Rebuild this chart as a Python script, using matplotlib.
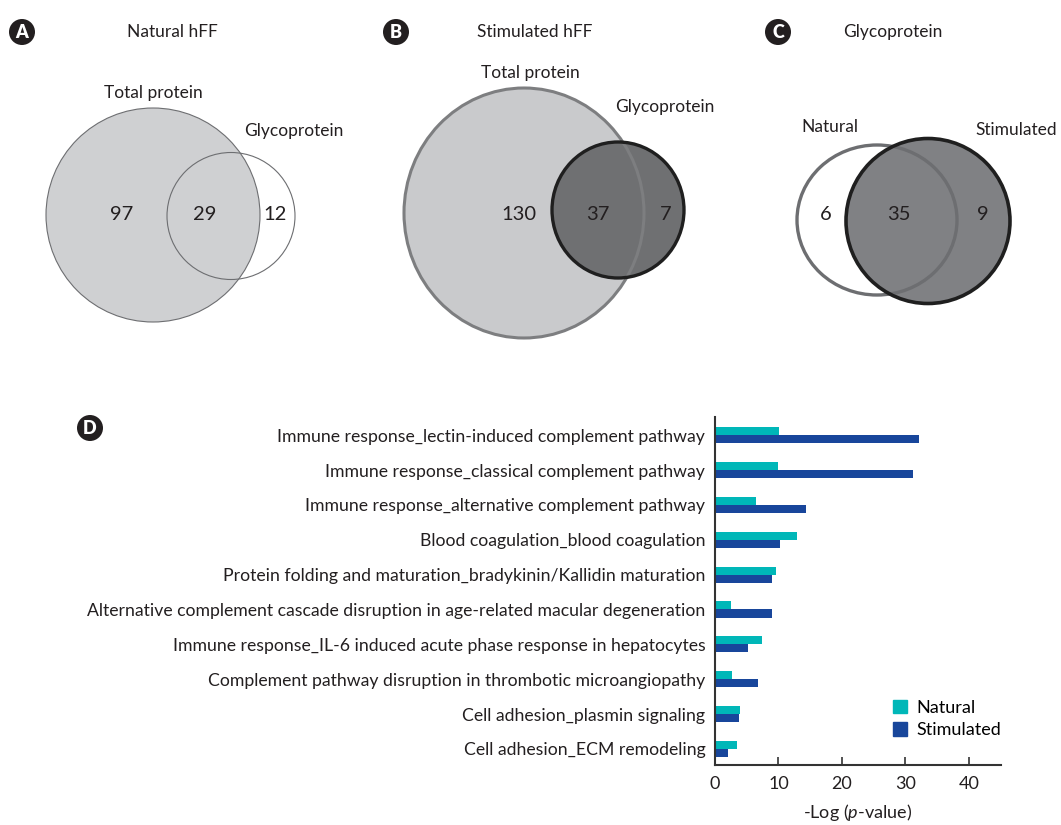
import matplotlib
matplotlib.use("Agg")
import matplotlib.pyplot as plt
from matplotlib.patches import Ellipse, Circle, Patch
import numpy as np

plt.rcParams['font.family'] = ['Lato', 'DejaVu Sans']
plt.rcParams['mathtext.fontset'] = 'custom'
plt.rcParams['mathtext.rm'] = 'Lato'
plt.rcParams['mathtext.it'] = 'Lato:italic'

# Venn counts
natural_counts = [97, 29, 12]       # total only, overlap, glyco only
stimulated_counts = [130, 37, 7]
glyco_counts = [6, 35, 9]           # natural only, shared, stimulated only

# Pathway enrichment, -log(p)
pathways = [
    "Immune response_lectin-induced complement pathway",
    "Immune response_classical complement pathway",
    "Immune response_alternative complement pathway",
    "Blood coagulation_blood coagulation",
    "Protein folding and maturation_bradykinin/Kallidin maturation",
    "Alternative complement cascade disruption in age-related macular degeneration",
    "Immune response_IL-6 induced acute phase response in hepatocytes",
    "Complement pathway disruption in thrombotic microangiopathy",
    "Cell adhesion_plasmin signaling",
    "Cell adhesion_ECM remodeling",
]
natural_vals = [10.1, 9.9, 6.5, 12.9, 9.6, 2.5, 7.4, 2.6, 3.9, 3.4]
stimulated_vals = [32.1, 31.2, 14.3, 10.2, 9.0, 9.0, 5.2, 6.8, 3.8, 2.0]

W, H = 1061, 825
fig = plt.figure(figsize=(W / 100, H / 100), dpi=100)

# full-figure canvas in pixel units for the venn panels
bg = fig.add_axes([0, 0, 1, 1])
bg.set_xlim(0, W)
bg.set_ylim(H, 0)
bg.axis('off')


def panel_letter(x, y, s):
    bg.add_patch(Circle((x, y), 13, facecolor='#231f20', edgecolor='none', zorder=5))
    bg.text(x, y + 0.5, s, color='white', fontsize=13, fontweight='heavy',
            ha='center', va='center', zorder=6)


txt = dict(fontsize=12.5, color='#231f20', ha='center', va='center')
num = dict(fontsize=14.5, color='#231f20', ha='center', va='center', zorder=10)

# A: natural hFF
panel_letter(22, 32, 'A')
bg.text(172, 32, 'Natural hFF', **txt)
bg.add_patch(Ellipse((153, 215), 214, 214, facecolor='#cfd0d2', edgecolor='#6d6e71', lw=0.8))
bg.add_patch(Ellipse((231, 216), 128, 127, facecolor='none', edgecolor='#6d6e71', lw=0.8))
bg.text(153, 93, 'Total protein', **txt)
bg.text(294, 131, 'Glycoprotein', **txt)
for x, v in zip([122, 205, 275], natural_counts):
    bg.text(x, 214, str(v), **num)

# B: stimulated hFF
panel_letter(396, 32, 'B')
bg.text(535, 32, 'Stimulated hFF', **txt)
bg.add_patch(Ellipse((524, 213), 240, 250, facecolor='#c9cacc', edgecolor='none'))
bg.add_patch(Ellipse((618, 210), 132, 136, facecolor='#6f7072', edgecolor='none'))
bg.add_patch(Ellipse((524, 213), 240, 250, facecolor='none', edgecolor='#7d7e80', lw=2.2))
bg.add_patch(Ellipse((618, 210), 132, 136, facecolor='none', edgecolor='#1f1f1f', lw=2.4))
bg.text(530, 73, 'Total protein', **txt)
bg.text(665, 107, 'Glycoprotein', **txt)
for x, v in zip([519, 598, 666], stimulated_counts):
    bg.text(x, 214, str(v), **num)

# C: glycoprotein natural vs stimulated
panel_letter(778, 32, 'C')
bg.text(893, 32, 'Glycoprotein', **txt)
bg.add_patch(Ellipse((928, 221), 164, 165, facecolor='#808184', edgecolor='none'))
bg.add_patch(Ellipse((877, 220), 160, 150, facecolor='none', edgecolor='#6d6e71', lw=2.4))
bg.add_patch(Ellipse((928, 221), 164, 165, facecolor='none', edgecolor='#1f1f1f', lw=2.6))
bg.text(830, 127, 'Natural', **txt)
bg.text(1016, 130, 'Stimulated', **txt)
for x, v in zip([826, 899, 983], glyco_counts):
    bg.text(x, 214, str(v), **num)

# D: pathway bar chart
panel_letter(90, 428, 'D')
ax = fig.add_axes([715 / W, 1 - 765 / H, (1000.7 - 715) / W, (765 - 417) / H])
y = np.arange(len(pathways))
h = 0.23
ax.barh(y - h / 2, natural_vals, height=h, color='#00b7b8', label='Natural')
ax.barh(y + h / 2, stimulated_vals, height=h, color='#18469b', label='Stimulated')
ax.set_ylim(9.46, -0.52)
ax.set_xlim(0, 45)
ax.set_yticks(y)
ax.set_yticklabels(pathways, fontsize=12.7, color='#231f20')
ax.tick_params(axis='y', length=0, pad=7)
ax.set_xticks([0, 10, 20, 30, 40])
ax.tick_params(axis='x', direction='in', length=6, width=1.2, color='#333333',
               labelsize=13, labelcolor='#231f20', pad=8)
for s in ['top', 'right']:
    ax.spines[s].set_visible(False)
for s in ['left', 'bottom']:
    ax.spines[s].set_color('#333333')
    ax.spines[s].set_linewidth(1.5)
ax.set_xlabel(r'-Log ($\mathit{p}$-value)', fontsize=13, color='#231f20', labelpad=7)
ax.legend(handles=[Patch(color='#00b7b8', label='Natural'), Patch(color='#18469b', label='Stimulated')],
          loc='lower right', bbox_to_anchor=(1.058, 0.03), frameon=False, fontsize=13,
          handlelength=0.8, handleheight=0.8, handletextpad=0.5, labelspacing=0.35)

fig.savefig('out.png', dpi=100)
